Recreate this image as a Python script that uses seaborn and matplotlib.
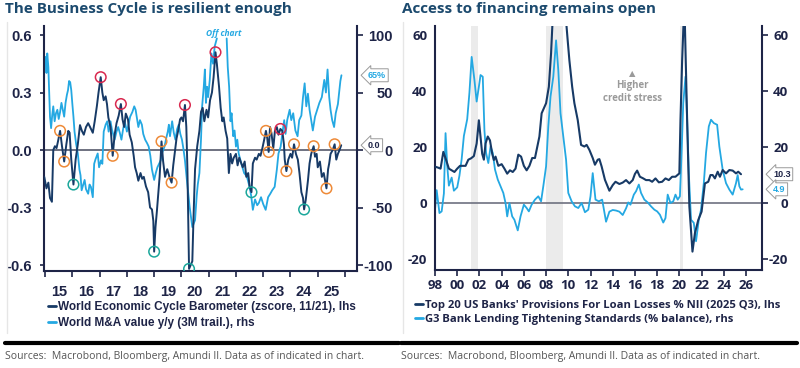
import numpy as np
import pandas as pd
import matplotlib
matplotlib.use("Agg")
import matplotlib.pyplot as plt
import seaborn as sns
from matplotlib.lines import Line2D

sns.set_theme(style="white")
plt.rcParams['font.family'] = ['Liberation Sans', 'DejaVu Sans']

# ---------------- Left chart data ----------------
cycle_t = [2014.97, 2015.05, 2015.12, 2015.18, 2015.25, 2015.3, 2015.36, 2015.42, 2015.48, 2015.55,
           2015.62, 2015.7, 2015.78, 2015.85, 2015.9, 2015.96, 2016.04, 2016.12, 2016.2, 2016.28,
           2016.35, 2016.42, 2016.5, 2016.58, 2016.65, 2016.75, 2016.82, 2016.9, 2016.96, 2017.04,
           2017.1, 2017.15, 2017.22, 2017.27, 2017.32, 2017.4, 2017.48, 2017.55, 2017.62, 2017.7,
           2017.78, 2017.84, 2017.9, 2017.96, 2018.04, 2018.1, 2018.18, 2018.25, 2018.3, 2018.36,
           2018.42, 2018.5, 2018.56, 2018.62, 2018.7, 2018.78, 2018.85, 2018.92, 2018.97, 2019.0,
           2019.05, 2019.1, 2019.15, 2019.2, 2019.27, 2019.33, 2019.4, 2019.48, 2019.56, 2019.64,
           2019.7, 2019.75, 2019.82, 2019.88, 2019.95, 2020.0, 2020.06, 2020.13, 2020.18, 2020.22,
           2020.26, 2020.28, 2020.34, 2020.4, 2020.44, 2020.5, 2020.58, 2020.66, 2020.72, 2020.78,
           2020.84, 2020.92, 2020.98, 2021.05, 2021.12, 2021.18, 2021.25, 2021.3, 2021.38, 2021.44,
           2021.5, 2021.55, 2021.62, 2021.68, 2021.74, 2021.8, 2021.86, 2021.92, 2022.0, 2022.06,
           2022.12, 2022.2, 2022.25, 2022.32, 2022.38, 2022.45, 2022.5, 2022.57, 2022.62, 2022.7,
           2022.76, 2022.84, 2022.9, 2022.97, 2023.03, 2023.1, 2023.15, 2023.2, 2023.25, 2023.3,
           2023.37, 2023.43, 2023.5, 2023.56, 2023.63, 2023.7, 2023.76, 2023.79, 2023.85, 2023.92,
           2024.0, 2024.06, 2024.13, 2024.2, 2024.27, 2024.33, 2024.4, 2024.46, 2024.5, 2024.56,
           2024.64, 2024.7, 2024.76, 2024.85, 2024.9, 2024.96, 2025.0, 2025.08, 2025.15, 2025.22,
           2025.32, 2025.38, 2025.42, 2025.47, 2025.55, 2025.62, 2025.68, 2025.74, 2025.8, 2025.86]
cycle_v = [-0.14, -0.20, -0.17, -0.25, -0.27, 0.0, 0.02, 0.01, 0.05, 0.10,
           0.02, -0.06, 0.03, 0.10, 0.09, -0.05, -0.18, -0.05, 0.03, 0.13,
           0.10, 0.08, 0.12, 0.14, 0.12, 0.09, 0.15, 0.23, 0.30, 0.38,
           0.30, 0.26, 0.28, 0.24, 0.17, 0.12, -0.03, 0.08, 0.14, 0.18,
           0.24, 0.16, 0.12, 0.19, 0.16, 0.08, 0.04, -0.03, -0.09, -0.12,
           -0.16, -0.12, -0.15, -0.14, -0.19, -0.22, -0.30, -0.31, -0.37, -0.53,
           -0.40, -0.32, -0.23, -0.14, 0.045, -0.06, -0.14, -0.10, -0.14, -0.17,
           -0.08, -0.02, 0.06, 0.10, 0.16, 0.17, 0.15, 0.235, 0.12, -0.10,
           -0.45, -0.62, -0.60, -0.58, -0.37, -0.10, 0.02, 0.10, 0.20, 0.22,
           0.15, 0.21, 0.17, 0.26, 0.30, 0.38, 0.51, 0.45, 0.33, 0.22,
           0.15, 0.17, 0.10, 0.06, -0.12, -0.02, -0.07, -0.04, -0.02, -0.08,
           -0.04, -0.07, -0.09, -0.06, -0.14, -0.12, -0.19, -0.22, -0.07, -0.04,
           -0.05, -0.02, -0.03, 0.01, 0.05, 0.10, 0.06, -0.01, 0.12, 0.09,
           0.01, 0.10, 0.12, 0.08, 0.11, 0.10, 0.03, -0.05, -0.11, -0.05,
           -0.02, -0.04, 0.03, -0.02, -0.05, -0.12, -0.22, -0.25, -0.31, -0.26,
           -0.16, -0.07, -0.02, 0.02, -0.035, -0.02, -0.09, -0.06, -0.14, -0.12,
           -0.20, -0.10, -0.07, -0.02, 0.0, 0.03, -0.05, -0.02, 0.0, 0.025]

# M&A y/y: two visible segments; values between them are off chart
ma_t = [2014.97, 2015.02, 2015.05, 2015.08, 2015.12, 2015.15, 2015.18, 2015.22, 2015.26, 2015.3,
        2015.35, 2015.4, 2015.45, 2015.5, 2015.55, 2015.6, 2015.65, 2015.7, 2015.75, 2015.8,
        2015.84, 2015.88, 2015.92, 2015.96, 2016.0, 2016.04, 2016.08, 2016.14, 2016.2, 2016.26,
        2016.3, 2016.34, 2016.4, 2016.45, 2016.5, 2016.58, 2016.63, 2016.68, 2016.75, 2016.8,
        2016.85, 2016.93, 2016.98, 2017.05, 2017.1, 2017.15, 2017.22, 2017.28, 2017.33, 2017.4,
        2017.45, 2017.55, 2017.62, 2017.68, 2017.74, 2017.8, 2017.86, 2017.92, 2018.0, 2018.06,
        2018.12, 2018.2, 2018.27, 2018.32, 2018.38, 2018.42, 2018.48, 2018.55, 2018.6, 2018.67,
        2018.74, 2018.8, 2018.86, 2018.92, 2019.0, 2019.06, 2019.12, 2019.18, 2019.24, 2019.3,
        2019.38, 2019.44, 2019.5, 2019.54, 2019.58, 2019.66, 2019.72, 2019.78, 2019.84, 2019.9,
        2019.96, 2020.02, 2020.08, 2020.13, 2020.2, 2020.3, 2020.4, 2020.5, 2020.56, 2020.6,
        2020.66, 2020.72, 2020.76, 2020.82, 2020.86, 2020.9, 2020.94, 2020.98, 2021.04, 2021.1,
        2021.16, 2021.22, 2021.3,
        2021.66, 2021.7, 2021.75, 2021.8,
        2021.84, 2021.9, 2021.95, 2022.0, 2022.05, 2022.1, 2022.2, 2022.3, 2022.4, 2022.5,
        2022.56, 2022.62, 2022.7, 2022.78, 2022.84, 2022.92, 2023.0, 2023.09, 2023.18, 2023.26,
        2023.33, 2023.42, 2023.5, 2023.56, 2023.64, 2023.7, 2023.77, 2023.82, 2023.88, 2023.97,
        2024.03, 2024.1, 2024.18, 2024.26, 2024.32, 2024.4, 2024.46, 2024.52, 2024.58, 2024.64,
        2024.7, 2024.76, 2024.82, 2024.9, 2024.98, 2025.06, 2025.15, 2025.24, 2025.3, 2025.36,
        2025.42, 2025.47, 2025.53, 2025.6, 2025.66, 2025.74, 2025.78, 2025.83, 2025.87]
ma_v = [78, 81, 67, 84, 72, 50, 29, 19, 30, 38,
        25, 32, 35, 27, 33, 41, 35, 29, 41, 48,
        52, 60, 59, 52, 40, 29, 16, 5, -3, -17,
        -22, -35, -30, -26, -34, -38, -30, -32, -41, -12,
        -8, -3, -15, -9, -12, 16, 22, 25, 16, 25,
        18, 9, 16, 20, 15, 9, 18, 25, 16, 22,
        29, 33, 38, 35, 26, 20, 26, 22, 14, 9,
        6, 3, -5, -17, -26, -20, -15, -12, -9, -2,
        3, 10, 16, 22, 12, 25, 15, 9, 18, 22,
        14, 9, 0, -9, -26, -49, -67, -61, -40, -30,
        -20, 10, 38, 55, 70, 41, 55, 46, 61, 84,
        75, 90, 97,
        97, 72, 55, 25,
        32, 12, 17, 3, 9, -3, -12, -20, -23, -32,
        -40, -52, -43, -48, -46, -41, -47, -52, -41, -38,
        -35, -32, -17, -3, 3, 14, 26, 14, 26, 35,
        26, 32, 17, 12, 26, 30, 46, 58, 38, 49,
        35, 26, 17, 29, 35, 41, 46, 61, 50, 70,
        46, 35, 26, 20, 32, 40, 49, 60, 65]
ma_segment = [1] * 113 + [2] * (len(ma_t) - 113)

circle_t = [2017.04, 2017.78, 2020.13, 2021.25, 2023.63,
            2015.55, 2015.7, 2017.48, 2019.27, 2019.64, 2023.1, 2023.2, 2023.85, 2024.13, 2024.85, 2025.32, 2025.62,
            2016.04, 2019.0, 2020.28, 2022.57, 2024.5]
circle_v = [0.38, 0.24, 0.235, 0.51, 0.11,
            0.10, -0.06, -0.03, 0.045, -0.17, 0.10, -0.01, -0.11, 0.03, 0.02, -0.20, 0.03,
            -0.18, -0.53, -0.62, -0.22, -0.31]
circle_kind = ['peak'] * 5 + ['turn'] * 12 + ['trough'] * 5

left_years = list(range(2015, 2027))
left_labels = ['15', '16', '17', '18', '19', '20', '21', '22', '23', '24', '25']
left_yticks = [-0.6, -0.3, 0.0, 0.3, 0.6]
left_yticklabels = ['-0.6', '-0.3', '0.0', '0.3', '0.6']
right_yticks_L = [-100, -50, 0, 50, 100]

# ---------------- Right chart data ----------------
prov_t = [1998.0, 1998.25, 1998.5, 1998.75, 1999.0, 1999.25, 1999.5, 1999.75, 2000.0, 2000.25,
          2000.5, 2000.75, 2001.0, 2001.25, 2001.5, 2001.75, 2001.95, 2002.1, 2002.25, 2002.4,
          2002.55, 2002.75, 2002.95, 2003.15, 2003.3, 2003.45, 2003.7, 2004.0, 2004.25, 2004.5,
          2004.75, 2005.0, 2005.25, 2005.5, 2005.75, 2006.0, 2006.25, 2006.5, 2006.75, 2007.0,
          2007.15, 2007.4, 2007.6, 2007.8, 2008.0, 2008.25, 2008.45, 2008.7, 2009.0, 2009.3,
          2009.6, 2009.95, 2010.1, 2010.35, 2010.55, 2010.85, 2011.15, 2011.45, 2011.65, 2011.9,
          2012.2, 2012.4, 2012.65, 2012.8, 2013.0, 2013.3, 2013.7, 2014.0, 2014.25, 2014.6,
          2014.9, 2015.2, 2015.5, 2015.8, 2016.0, 2016.2, 2016.45, 2016.75, 2017.0, 2017.3,
          2017.55, 2017.85, 2018.15, 2018.45, 2018.75, 2019.05, 2019.35, 2019.65, 2020.0, 2020.1,
          2020.25, 2020.45, 2020.7, 2020.9, 2021.18, 2021.4, 2021.7, 2022.0, 2022.3, 2022.6,
          2022.8, 2023.0, 2023.2, 2023.45, 2023.65, 2023.9, 2024.2, 2024.5, 2024.8, 2025.1,
          2025.3, 2025.55]
prov_v = [13.0, 12.7, 12.3, 18.3, 15.4, 12.3, 11.7, 11.1, 12.3, 13.3,
          13.3, 13.3, 15.5, 16.0, 16.8, 21.3, 29.6, 23.6, 17.6, 15.5,
          21.3, 23.8, 22.4, 17.6, 15.4, 16.6, 13.3, 13.9, 12.3, 10.5,
          11.7, 11.1, 12.3, 17.3, 16.6, 13.3, 11.7, 13.3, 16.1, 16.1,
          19.0, 23.8, 32.1, 33.9, 35.7, 41.6, 53.6, 75.0, 90.0, 88.0,
          75.0, 58.0, 51.0, 41.6, 35.7, 29.7, 20.8, 20.2, 20.8, 19.0,
          16.1, 13.7, 15.5, 15.7, 13.1, 8.3, 4.4, 6.4, 7.6, 6.8,
          7.3, 8.2, 7.0, 8.2, 10.4, 11.6, 9.4, 8.8, 8.2, 8.2,
          7.6, 8.8, 7.4, 7.6, 8.8, 8.2, 9.4, 9.4, 10.6, 29.6,
          51.0, 72.0, 29.6, -1.2, -17.4, -10.8, -6.1, -3.1, 7.0, 7.6,
          10.0, 10.0, 8.8, 11.2, 9.4, 11.8, 10.6, 11.8, 11.6, 10.6,
          11.2, 10.3]

g3_t = [1998.0, 1998.15, 1998.4, 1998.6, 1998.8, 1998.95, 1999.1, 1999.25, 1999.5, 1999.7,
        2000.0, 2000.2, 2000.4, 2000.6, 2000.9, 2001.1, 2001.3, 2001.55, 2001.75, 2001.95,
        2002.1, 2002.3, 2002.45, 2002.6, 2002.8, 2003.0, 2003.2, 2003.4, 2003.65, 2003.9,
        2004.15, 2004.35, 2004.5, 2004.7, 2004.95, 2005.15, 2005.45, 2005.7, 2006.0, 2006.25,
        2006.45, 2006.7, 2007.0, 2007.3, 2007.55, 2007.75, 2008.0, 2008.2, 2008.4, 2008.65,
        2008.9, 2009.1, 2009.3, 2009.55, 2009.8, 2010.0, 2010.3, 2010.6, 2010.9, 2011.2,
        2011.5, 2011.8, 2012.0, 2012.2, 2012.45, 2012.75, 2013.05, 2013.4, 2013.7, 2014.0,
        2014.3, 2014.6, 2014.9, 2015.2, 2015.4, 2015.6, 2015.9, 2016.1, 2016.35, 2016.55,
        2016.85, 2017.15, 2017.45, 2017.75, 2018.0, 2018.25, 2018.55, 2018.75, 2018.95, 2019.2,
        2019.45, 2019.65, 2019.85, 2020.05, 2020.2, 2020.35, 2020.55, 2020.7, 2020.85, 2021.05,
        2021.3, 2021.5, 2021.75, 2021.95, 2022.2, 2022.4, 2022.65, 2022.85, 2023.1, 2023.4,
        2023.6, 2023.9, 2024.2, 2024.5, 2024.8, 2025.1, 2025.25, 2025.4, 2025.55, 2025.7]
g3_v = [-2.5, 4.6, -3.6, -3.0, 3.4, 25.0, 13.3, 6.2, 9.1, 4.4,
        5.6, 9.8, 15.7, 24.0, 30.0, 39.5, 52.3, 44.0, 36.3, 41.6,
        45.8, 45.2, 26.0, 17.9, 14.3, 20.2, 17.9, 12.0, 8.4, 6.0,
        3.6, 0.0, -4.8, 0.0, -4.8, -6.0, -9.8, -4.8, -0.6, -1.8,
        -3.0, -0.6, 1.2, 2.4, 0.6, 6.0, 13.1, 27.4, 38.1, 45.2,
        58.2, 47.6, 32.1, 23.8, 15.5, 3.6, 0.6, -1.2, -1.8, 0.0,
        -3.3, -2.4, 2.4, 10.7, 1.2, 0.6, 1.2, -6.7, -3.1, -2.5,
        -2.7, -3.1, -4.3, -1.9, 0.2, -0.6, 3.0, 4.2, 6.6, 3.6,
        1.2, 0.2, -1.2, -2.4, -3.0, -4.2, -7.0, -5.4, 3.0, 0.0,
        0.6, 3.0, 1.2, 2.4, 17.9, 35.7, 45.2, 29.8, 10.7, -6.0,
        -7.1, -13.7, -6.0, -2.4, 7.1, 17.9, 27.4, 29.8, 28.6, 28.0,
        20.2, 11.9, 7.1, 4.8, 3.0, 7.1, 10.0, 6.0, 4.8, 4.9]

recessions = [(2001.2, 2001.9), (2008.0, 2009.5), (2020.1, 2020.35)]
right_years = list(range(1998, 2027, 2))
right_labels = ['98', '00', '02', '04', '06', '08', '10', '12', '14', '16', '18', '20', '22', '24', '26']
right_yticks = [-20, 0, 20, 40, 60]

# ---------------- Styling ----------------
W, H = 800, 368
NAVY = '#1e2447'
DARK = '#173a66'
LIGHT = '#24a8e2'
ZERO = '#6e7180'
TITLE = '#1c4a6e'
CIRCLE_COLORS = {'peak': '#d9294f', 'turn': '#ee8a38', 'trough': '#1ba79b'}


def rect(x0, y0, x1, y1):
    return [x0 / W, 1 - y1 / H, (x1 - x0) / W, (y1 - y0) / H]


def fx(x):
    return x / W


def fy(y):
    return 1 - y / H


fig = plt.figure(figsize=(8, 3.68), dpi=100)
fig.patch.set_facecolor('white')

# ---------- Left chart ----------
axL = fig.add_axes(rect(44, 26, 357, 271))
axL2 = axL.twinx()
axL.set_zorder(axL2.get_zorder() + 1)
axL.patch.set_visible(False)

df_ma = pd.DataFrame({'t': ma_t, 'v': ma_v, 'seg': ma_segment})
df_cy = pd.DataFrame({'t': cycle_t, 'v': cycle_v})
axL2.axhline(0, color=ZERO, lw=1.4, zorder=1)
sns.lineplot(data=df_ma, x='t', y='v', units='seg', ax=axL2, color=LIGHT, lw=1.3,
             estimator=None, sort=False, zorder=2)
sns.lineplot(data=df_cy, x='t', y='v', ax=axL, color=DARK, lw=1.4, estimator=None, sort=False, zorder=3)
for k in ['peak', 'turn', 'trough']:
    xs = [t for t, kk in zip(circle_t, circle_kind) if kk == k]
    ys = [v for v, kk in zip(circle_v, circle_kind) if kk == k]
    axL.scatter(xs, ys, s=58, facecolors='none', edgecolors=CIRCLE_COLORS[k], linewidths=1.1, zorder=4)

y_top, y_bot = 0.647, -0.631
axL.set_ylim(y_bot, y_top)
axL2.set_ylim(y_bot * 500 / 3, y_top * 500 / 3)
axL.set_xlim(2014.96, 2026.44)
axL.set_xlabel('')
axL.set_ylabel('')
axL2.set_ylabel('')

# labels at mid-year (major, no mark), marks at year boundaries (minor)
axL.set_xticks([y + 0.5 for y in left_years[:-1]])
axL.set_xticklabels(left_labels)
axL.set_xticks(left_years, minor=True)
axL.tick_params(axis='x', which='major', bottom=True, length=0, pad=10, labelsize=10.5, labelcolor=NAVY)
axL.tick_params(axis='x', which='minor', bottom=True, length=4, width=1.2, color=NAVY, direction='out')
axL.set_yticks(left_yticks)
axL.set_yticklabels(left_yticklabels)
axL.tick_params(axis='y', left=True, length=3, width=1.2, color=NAVY, pad=6, labelsize=10.5, labelcolor=NAVY)
axL2.set_yticks(right_yticks_L)
axL2.set_yticklabels([str(v) for v in right_yticks_L])
axL2.tick_params(axis='y', right=True, length=4, width=1.2, color=NAVY, pad=22, labelsize=10.5, labelcolor=NAVY)
for lab in axL2.get_yticklabels():
    lab.set_ha('right')
for lab in axL.get_xticklabels() + axL.get_yticklabels() + axL2.get_yticklabels():
    lab.set_fontweight('bold')

for a in (axL, axL2):
    for s in a.spines.values():
        s.set_visible(False)
axL.spines['left'].set_visible(True)
axL.spines['bottom'].set_visible(True)
axL2.spines['right'].set_visible(True)
for s in (axL.spines['left'], axL.spines['bottom'], axL2.spines['right']):
    s.set_color(NAVY)
    s.set_linewidth(1.5)
axL.grid(False)
axL2.grid(False)

axL2.text(2021.55, 101.5, 'Off chart', color=LIGHT, fontsize=6, style='italic',
          fontweight='bold', ha='center', va='center', family=['Open Sans', 'DejaVu Sans'])

axL2.annotate('65%', xy=(1, ma_v[-1]), xycoords=('axes fraction', 'data'), xytext=(8, 0),
              textcoords='offset points', ha='left', va='center', fontsize=6.5, fontweight='bold',
              color=LIGHT, bbox=dict(boxstyle='larrow,pad=0.22', fc='white', ec='#9a9a9a', lw=0.7))
axL.annotate('0.0', xy=(1, cycle_v[-1]), xycoords=('axes fraction', 'data'), xytext=(8, 0),
             textcoords='offset points', ha='left', va='center', fontsize=6.5, fontweight='bold',
             color=NAVY, bbox=dict(boxstyle='larrow,pad=0.22', fc='white', ec='#9a9a9a', lw=0.7),
             annotation_clip=False, zorder=6)

handlesL = [Line2D([], [], color=DARK, lw=2), Line2D([], [], color=LIGHT, lw=2)]
fig.legend(handlesL, ['World Economic Cycle Barometer (zscore, 11/21), lhs',
                      'World M&A value y/y (3M trail.), rhs'],
           loc='upper left', bbox_to_anchor=(fx(48), fy(301)), frameon=False,
           prop={'family': 'Liberation Sans', 'weight': 'bold', 'size': 8.5},
           handlelength=0.7, handletextpad=0.15, labelspacing=0.38, borderpad=0, borderaxespad=0,
           labelcolor=NAVY)

# ---------- Right chart ----------
axR = fig.add_axes(rect(435, 26, 762, 270))
axR2 = axR.twinx()
axR.set_zorder(axR2.get_zorder() + 1)
axR.patch.set_visible(False)

for a, b in recessions:
    axR2.axvspan(a, b, color='#ebebeb', lw=0, zorder=0)
axR2.axhline(0, color=ZERO, lw=1.2, zorder=1)
df_g3 = pd.DataFrame({'t': g3_t, 'v': g3_v})
df_pr = pd.DataFrame({'t': prov_t, 'v': prov_v})
sns.lineplot(data=df_g3, x='t', y='v', ax=axR2, color=LIGHT, lw=1.3, estimator=None, sort=False, zorder=2)
sns.lineplot(data=df_pr, x='t', y='v', ax=axR, color=DARK, lw=1.5, estimator=None, sort=False, zorder=3)

r_top, r_bot = 63.35, -23.98
axR.set_ylim(r_bot, r_top)
axR2.set_ylim(r_bot, r_top)
axR.set_xlim(1998.0, 2027.44)
axR.set_xlabel('')
axR.set_ylabel('')
axR2.set_ylabel('')
axR.set_xticks(right_years)
axR.set_xticklabels(right_labels)
axR.tick_params(axis='x', length=4, width=1.2, color=NAVY, direction='out', bottom=True, pad=2.5,
                labelsize=9.5, labelcolor=NAVY)
axR.set_yticks(right_yticks)
axR.set_yticklabels([str(v) for v in right_yticks])
axR.tick_params(axis='y', left=False, length=0, pad=5.5, labelsize=9.5, labelcolor=NAVY)
axR2.set_yticks(right_yticks)
axR2.set_yticklabels([str(v) for v in right_yticks])
axR2.tick_params(axis='y', right=True, length=4, width=1.2, color=NAVY, pad=15, labelsize=9.5, labelcolor=NAVY)
for lab in axR2.get_yticklabels():
    lab.set_ha('right')
for lab in axR.get_xticklabels() + axR.get_yticklabels() + axR2.get_yticklabels():
    lab.set_fontweight('bold')
    lab.set_family(['Open Sans', 'DejaVu Sans'])

for a in (axR, axR2):
    for s in a.spines.values():
        s.set_visible(False)
axR.spines['left'].set_visible(True)
axR.spines['bottom'].set_visible(True)
axR2.spines['right'].set_visible(True)
for s in (axR.spines['left'], axR.spines['bottom'], axR2.spines['right']):
    s.set_color(NAVY)
    s.set_linewidth(1.5)
axR.grid(False)
axR2.grid(False)

axR2.text(2015.75, 46.5, '\u25B2', color='#9a9a9a', fontsize=6, ha='center', va='center',
          family=['DejaVu Sans'])
axR2.text(2015.75, 39.8, 'Higher\ncredit stress', color='#9a9a9a', fontsize=7, ha='center', va='center',
          fontweight='bold', linespacing=1.3, family=['Open Sans', 'DejaVu Sans'])

axR2.annotate('10.3', xy=(1, prov_v[-1]), xycoords=('axes fraction', 'data'), xytext=(8, 0),
              textcoords='offset points', ha='left', va='center', fontsize=6.5, fontweight='bold',
              color=NAVY, bbox=dict(boxstyle='larrow,pad=0.22', fc='white', ec='#9a9a9a', lw=0.7),
              annotation_clip=False)
axR2.annotate('4.9', xy=(1, g3_v[-1]), xycoords=('axes fraction', 'data'), xytext=(8, 0),
              textcoords='offset points', ha='left', va='center', fontsize=6.5, fontweight='bold',
              color=LIGHT, bbox=dict(boxstyle='larrow,pad=0.22', fc='white', ec='#9a9a9a', lw=0.7),
              annotation_clip=False)

handlesR = [Line2D([], [], color=DARK, lw=2), Line2D([], [], color=LIGHT, lw=2)]
fig.legend(handlesR, ["Top 20 US Banks' Provisions For Loan Losses % NII (2025 Q3), lhs",
                      'G3 Bank Lending Tightening Standards (% balance), rhs'],
           loc='upper left', bbox_to_anchor=(fx(415), fy(300)), frameon=False,
           prop={'family': 'Open Sans', 'weight': 'bold', 'size': 8.1},
           handlelength=0.7, handletextpad=0.15, labelspacing=0.3, borderpad=0, borderaxespad=0,
           labelcolor=NAVY)

# ---------- Titles, frames, sources ----------
fig.text(fx(5), fy(9), 'The Business Cycle is resilient enough', fontsize=11, fontweight='bold',
         color=TITLE, ha='left', va='center', family=['Open Sans', 'DejaVu Sans'])
fig.text(fx(402), fy(9), 'Access to financing remains open', fontsize=11, fontweight='bold',
         color=TITLE, ha='left', va='center', family=['Open Sans', 'DejaVu Sans'])

for x in (7, 403):
    fig.add_artist(Line2D([fx(x), fx(x)], [fy(22), fy(333)], color='#e6e6e6', lw=1))
fig.add_artist(Line2D([fx(5), fx(399)], [fy(342.5)] * 2, color='black', lw=3))
fig.add_artist(Line2D([fx(401), fx(797)], [fy(342.5)] * 2, color='black', lw=3))

src = 'Sources:  Macrobond, Bloomberg, Amundi II. Data as of indicated in chart.'
fig.text(fx(5), fy(356), src, fontsize=7.5, color='#555555', ha='left', va='center',
         family=['Open Sans', 'DejaVu Sans'])
fig.text(fx(401), fy(356), src, fontsize=7.5, color='#555555', ha='left', va='center',
         family=['Open Sans', 'DejaVu Sans'])

fig.savefig('out.png', dpi=100, facecolor='white')
